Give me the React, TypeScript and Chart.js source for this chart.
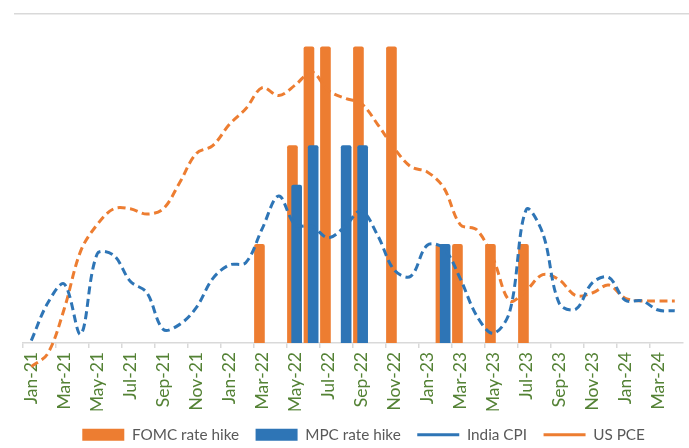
import { useEffect, useRef } from 'react';
import { Chart, registerables } from 'chart.js';

Chart.register(...registerables);

const months = [
  'Jan-21', 'Feb-21', 'Mar-21', 'Apr-21', 'May-21', 'Jun-21', 'Jul-21', 'Aug-21', 'Sep-21', 'Oct-21', 'Nov-21', 'Dec-21',
  'Jan-22', 'Feb-22', 'Mar-22', 'Apr-22', 'May-22', 'Jun-22', 'Jul-22', 'Aug-22', 'Sep-22', 'Oct-22', 'Nov-22', 'Dec-22',
  'Jan-23', 'Feb-23', 'Mar-23', 'Apr-23', 'May-23', 'Jun-23', 'Jul-23', 'Aug-23', 'Sep-23', 'Oct-23', 'Nov-23', 'Dec-23',
  'Jan-24', 'Feb-24', 'Mar-24', 'Apr-24',
];

// rate hikes in basis points
const fomcRateHike = [
  null, null, null, null, null, null, null, null, null, null, null, null,
  null, null, 25, null, 50, 75, 75, null, 75, null, 75, null,
  null, 25, 25, null, 25, null, 25, null, null, null, null, null,
  null, null, null, null,
];
const mpcRateHike = [
  null, null, null, null, null, null, null, null, null, null, null, null,
  null, null, null, null, 40, 50, null, 50, 50, null, null, null,
  null, 25, null, null, null, null, null, null, null, null, null, null,
  null, null, null, null,
];

// inflation, % y/y
const indiaCpi = [
  4.06, 5.03, 5.52, 4.23, 6.3, 6.26, 5.59, 5.3, 4.35, 4.48, 4.91, 5.66,
  6.01, 6.07, 6.95, 7.79, 7.04, 7.01, 6.71, 7.0, 7.41, 6.77, 5.88, 5.72,
  6.52, 6.44, 5.66, 4.7, 4.25, 4.81, 7.44, 6.83, 5.02, 4.87, 5.55, 5.69,
  5.1, 5.09, 4.85, 4.83,
];
const usPce = [
  1.4, 1.65, 2.5, 3.6, 4.1, 4.4, 4.4, 4.3, 4.4, 4.9, 5.45, 5.6,
  6.0, 6.3, 6.7, 6.55, 6.75, 7.0, 6.65, 6.5, 6.4, 6.0, 5.55, 5.2,
  5.1, 4.8, 4.1, 4.0, 3.45, 2.65, 2.85, 3.15, 3.05, 2.75, 2.8, 2.95,
  2.7, 2.65, 2.65, 2.65,
];

const ORANGE = '#ED7D31';
const BLUE = '#2E75B6';
const GRID = '#d9d9d9';
const BAR_MAX = 83.3;
const CPI_MIN = 4;
const CPI_MAX = 12.48;
const PCE_MIN = 1.85;
const PCE_MAX = 8.1;
const FONT = 'Lato';

export default function App() {
  const ref = useRef<HTMLCanvasElement>(null);

  useEffect(() => {
    const chart = new Chart(ref.current!, {
      type: 'bar',
      data: {
        labels: months,
        datasets: [
          {
            type: 'bar',
            label: 'FOMC rate hike',
            data: fomcRateHike.map((v, i) => ({ x: i, y: v })) as any,
            backgroundColor: ORANGE,
            borderColor: ORANGE,
            borderWidth: 0,
            borderRadius: 2,
            barThickness: 10,
            grouped: false,
            xAxisID: 'xF',
            yAxisID: 'y',
            order: 2,
            pointStyle: 'rect',
          } as any,
          {
            type: 'bar',
            label: 'MPC rate hike',
            data: mpcRateHike.map((v, i) => ({ x: i, y: v })) as any,
            backgroundColor: BLUE,
            borderColor: BLUE,
            borderWidth: 0,
            borderRadius: 2,
            barThickness: 10,
            grouped: false,
            xAxisID: 'xM',
            yAxisID: 'y',
            order: 1,
            pointStyle: 'rect',
          } as any,
          {
            type: 'line',
            label: 'India CPI',
            data: indiaCpi,
            borderColor: BLUE,
            backgroundColor: BLUE,
            borderWidth: 3,
            borderDash: [8, 4.5],
            pointRadius: 0,
            tension: 0.35,
            fill: false,
            clip: false,
            xAxisID: 'x',
            yAxisID: 'y2',
            order: 0,
            pointStyle: 'line',
          } as any,
          {
            type: 'line',
            label: 'US PCE',
            data: usPce,
            borderColor: ORANGE,
            backgroundColor: ORANGE,
            borderWidth: 3,
            borderDash: [8, 4.5],
            pointRadius: 0,
            tension: 0.35,
            fill: false,
            clip: false,
            xAxisID: 'x',
            yAxisID: 'y3',
            order: 0,
            pointStyle: 'line',
          } as any,
        ],
      },
      options: {
        responsive: false,
        devicePixelRatio: 1,
        animation: false,
        layout: { padding: { top: 14, left: 14, right: -24.2, bottom: -4.3 } },
        plugins: {
          tooltip: { enabled: false },
          legend: {
            position: 'bottom',
            labels: {
              usePointStyle: true,
              pointStyleWidth: 42,
              boxHeight: 12,
              padding: 16.5,
              color: '#595959',
              font: { family: FONT, size: 15.3 },
              sort: (a: any, b: any) => a.datasetIndex - b.datasetIndex,
            },
          },
        },
        scales: {
          x: {
            type: 'category',
            position: 'bottom',
            offset: true,
            grid: {
              offset: true,
              drawOnChartArea: false,
              drawTicks: true,
              tickLength: 5,
              lineWidth: 1.5,
              color: (ctx: any) => (ctx.index % 2 === 0 ? GRID : 'rgba(0,0,0,0)'),
            },
            border: { display: true, color: GRID, width: 1.5 },
            ticks: {
              autoSkip: false,
              minRotation: 90,
              maxRotation: 90,
              padding: 4,
              color: '#548235',
              font: { family: FONT, size: 17.5 },
              callback: (_v: any, i: number) => (i % 2 === 0 ? months[i] : ''),
            },
            afterFit: (s: any) => {
              s.height = 67.5;
              s.paddingLeft = 0;
              s.paddingRight = 0;
            },
          },
          xF: { type: 'linear', display: false, offset: false, min: -0.5 + 0.17, max: 39.5 + 0.17 },
          xM: { type: 'linear', display: false, offset: false, min: -0.5 - 0.085, max: 39.5 - 0.085 },
          y: {
            type: 'linear',
            position: 'left',
            min: 0,
            max: BAR_MAX,
            afterBuildTicks: (s: any) => {
              s.ticks = [{ value: BAR_MAX }];
            },
            ticks: { display: false },
            grid: { color: GRID, lineWidth: 1.5, drawTicks: true, tickLength: 9 },
            border: { display: false },
            afterFit: (s: any) => {
              s.width = 9;
            },
          },
          y2: {
            type: 'linear',
            position: 'right',
            min: CPI_MIN,
            max: CPI_MAX,
            afterBuildTicks: (s: any) => {
              s.ticks = [{ value: CPI_MAX }];
            },
            ticks: { display: false },
            grid: { color: GRID, lineWidth: 1.5, drawOnChartArea: false, drawTicks: true, tickLength: 6 },
            border: { display: false },
            afterFit: (s: any) => {
              s.width = 30.2;
            },
          },
          y3: { type: 'linear', display: false, min: PCE_MIN, max: PCE_MAX },
        },
      } as any,
    });
    return () => chart.destroy();
  }, []);

  return (
    <div style={{ position: 'fixed', left: 0, top: 0, width: 689, height: 448, background: '#fff' }}>
      <canvas ref={ref} width={689} height={448} style={{ display: 'block' }} />
    </div>
  );
}
